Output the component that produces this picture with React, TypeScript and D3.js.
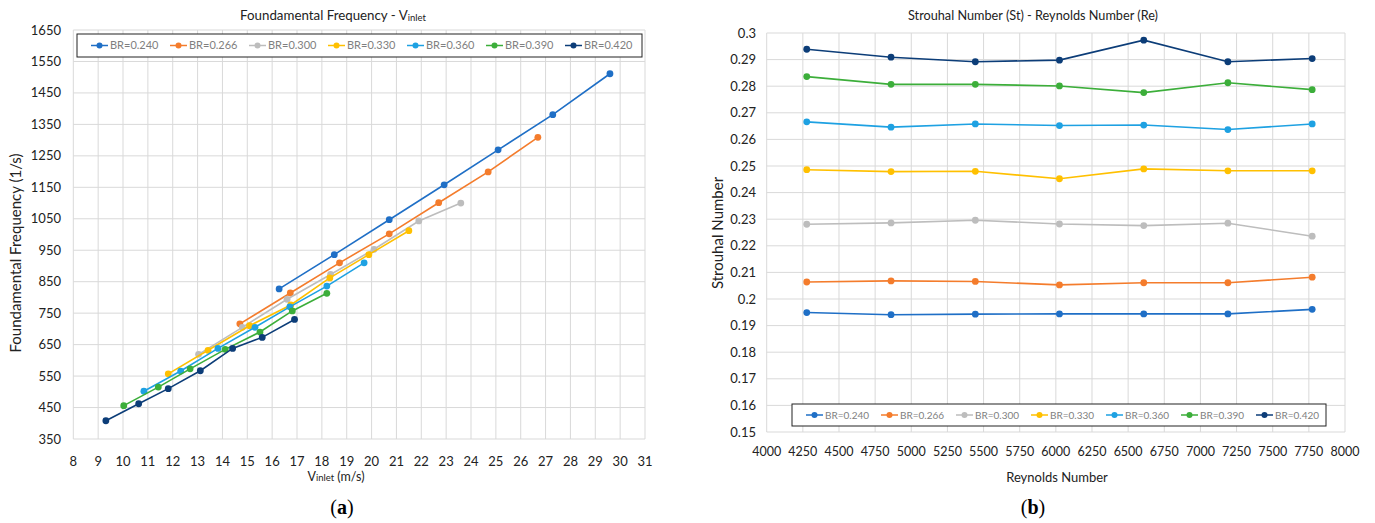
import * as d3 from "d3";

// ---- data ----
const BR_LABELS = ["BR=0.240", "BR=0.266", "BR=0.300", "BR=0.330", "BR=0.360", "BR=0.390", "BR=0.420"];

// (a) inlet velocity (m/s) vs fundamental frequency (1/s)
const V_240 = [16.28, 18.5, 20.71, 22.92, 25.09, 27.29, 29.59];
const F_240 = [827, 936, 1047, 1158, 1269, 1381, 1511];
const V_266 = [14.7, 16.73, 18.71, 20.71, 22.7, 24.69, 26.69];
const F_266 = [716, 814, 910, 1002, 1101, 1199, 1309];
const V_300 = [13.04, 14.8, 16.6, 18.35, 20.1, 21.9, 23.59];
const F_300 = [619, 705, 794, 873, 953, 1043, 1100];
const V_330 = [11.82, 13.42, 15.09, 16.75, 18.32, 19.89, 21.5];
const F_330 = [557, 632, 710, 776, 862, 936, 1012];
const V_360 = [10.84, 12.32, 13.82, 15.31, 16.71, 18.2, 19.7];
const F_360 = [502, 566, 638, 705, 770, 836, 910];
const V_390 = [10.03, 11.42, 12.7, 14.11, 15.51, 16.81, 18.2];
const F_390 = [456, 515, 573, 635, 690, 757, 813];
const V_420 = [9.31, 10.63, 11.82, 13.11, 14.41, 15.6, 16.9];
const F_420 = [408, 462, 510, 567, 638, 673, 730];

// (b) Reynolds number vs Strouhal number
const RE_VALUES = [4277, 4860, 5443, 6025, 6608, 7190, 7773];
const ST_240 = [0.1949, 0.1941, 0.1943, 0.1944, 0.1944, 0.1944, 0.1961];
const ST_266 = [0.2064, 0.2068, 0.2066, 0.2053, 0.2061, 0.2061, 0.2082];
const ST_300 = [0.2281, 0.2286, 0.2296, 0.2282, 0.2276, 0.2285, 0.2236];
const ST_330 = [0.2486, 0.2479, 0.248, 0.2452, 0.2489, 0.2482, 0.2482];
const ST_360 = [0.2666, 0.2646, 0.2658, 0.2652, 0.2654, 0.2637, 0.2658];
const ST_390 = [0.2836, 0.2807, 0.2807, 0.2801, 0.2776, 0.2813, 0.2787];
const ST_420 = [0.2939, 0.2909, 0.2892, 0.2898, 0.2973, 0.2892, 0.2904];

const FREQ_TICKS = d3.range(350, 1651, 100);
const V_TICKS = d3.range(8, 32, 1);
const ST_TICKS = d3.range(0.15, 0.3001, 0.01);
const RE_TICKS = d3.range(4000, 8001, 250);

const COLORS = ["#1f6fc6", "#f47c2c", "#bdbdbd", "#ffc000", "#1ea1e2", "#3cae3a", "#0c3d78"];

const FONT = "Lato, 'Open Sans', sans-serif";
const GRID = "#d9d9d9";
const TICK_FILL = "#222";

const leftSeries = [
  [V_240, F_240], [V_266, F_266], [V_300, F_300], [V_330, F_330],
  [V_360, F_360], [V_390, F_390], [V_420, F_420],
];
const rightSeries = [ST_240, ST_266, ST_300, ST_330, ST_360, ST_390, ST_420];

function Legend({ x, y, w, h, step, fontSize }: { x: number; y: number; w: number; h: number; step: number; fontSize: number }) {
  const cy = y + h / 2;
  return (
    <g>
      <rect x={x} y={y} width={w} height={h} fill="#fff" stroke="#222" strokeWidth={1} />
      {BR_LABELS.map((lab, i) => {
        const x0 = x + 14 + i * step;
        return (
          <g key={lab}>
            <line x1={x0} x2={x0 + 17} y1={cy} y2={cy} stroke={COLORS[i]} strokeWidth={1.5} />
            <circle cx={x0 + 8.5} cy={cy} r={3} fill={COLORS[i]} />
            <text x={x0 + 19} y={cy} dy="0.35em" fontSize={fontSize} fill="#7f7f7f" fontFamily={FONT}>
              {lab}
            </text>
          </g>
        );
      })}
    </g>
  );
}

function FreqChart() {
  const x = d3.scaleLinear().domain([8, 31]).range([73.3, 645]);
  const y = d3.scaleLinear().domain([350, 1650]).range([439, 30]);
  const line = d3.line<[number, number]>().x((d) => x(d[0])).y((d) => y(d[1]));
  return (
    <g>
      {V_TICKS.map((t) => (
        <line key={"gx" + t} x1={x(t)} x2={x(t)} y1={y(1650)} y2={y(350)} stroke={GRID} strokeWidth={1} />
      ))}
      {FREQ_TICKS.map((t) => (
        <line key={"gy" + t} x1={x(8)} x2={x(31)} y1={y(t)} y2={y(t)} stroke={GRID} strokeWidth={1} />
      ))}
      {FREQ_TICKS.map((t) => (
        <text key={"ty" + t} x={61} y={y(t)} dy="0.35em" textAnchor="end" fontSize={13} fill={TICK_FILL} fontFamily={FONT}>
          {t}
        </text>
      ))}
      {V_TICKS.map((t) => (
        <text key={"tx" + t} x={x(t)} y={461} dy="0.35em" textAnchor="middle" fontSize={13} fill={TICK_FILL} fontFamily={FONT}>
          {t}
        </text>
      ))}
      {leftSeries.map(([vs, fs], i) => {
        const pts = vs.map((v, j) => [v, fs[j]] as [number, number]);
        return (
          <g key={"s" + i}>
            <path d={line(pts) ?? ""} fill="none" stroke={COLORS[i]} strokeWidth={1.6} />
            {pts.map((p, j) => (
              <circle key={j} cx={x(p[0])} cy={y(p[1])} r={3.4} fill={COLORS[i]} />
            ))}
          </g>
        );
      })}
      <Legend x={77} y={34} w={565} h={23} step={79} fontSize={11} />
      <text x={333} y={20} textAnchor="middle" fontSize={13.3} fill={TICK_FILL} fontFamily={FONT}>
        Foundamental Frequency - V<tspan fontSize={9.5} dy={1}>inlet</tspan>
      </text>
      <text x={336} y={481} textAnchor="middle" fontSize={12.5} fill={TICK_FILL} fontFamily={FONT}>
        V<tspan fontSize={9.5} dy={0}>inlet</tspan> (m/s)
      </text>
      <text transform="translate(21,253) rotate(-90)" textAnchor="middle" fontSize={15} fill={TICK_FILL} fontFamily={FONT}>
        Foundamental Frequency (1/s)
      </text>
      <text x={342} y={514} textAnchor="middle" fontSize={20} fill="#000" fontFamily="'Liberation Serif', serif">
        (<tspan fontWeight="bold">a</tspan>)
      </text>
    </g>
  );
}

function StrouhalChart() {
  const x = d3.scaleLinear().domain([4000, 8000]).range([766.7, 1345]);
  const y = d3.scaleLinear().domain([0.15, 0.3]).range([432, 33]);
  const line = d3.line<number>().x((_, j) => x(RE_VALUES[j])).y((d) => y(d));
  const fmt = (t: number) => String(+t.toFixed(2));
  return (
    <g>
      {RE_TICKS.map((t) => (
        <line key={"gx" + t} x1={x(t)} x2={x(t)} y1={y(0.3)} y2={y(0.15)} stroke={GRID} strokeWidth={1} />
      ))}
      {ST_TICKS.map((t) => (
        <line key={"gy" + t} x1={x(4000)} x2={x(8000)} y1={y(t)} y2={y(t)} stroke={GRID} strokeWidth={1} />
      ))}
      {ST_TICKS.map((t) => (
        <text key={"ty" + t} x={756} y={y(t)} dy="0.35em" textAnchor="end" fontSize={13} fill={TICK_FILL} fontFamily={FONT}>
          {fmt(t)}
        </text>
      ))}
      {RE_TICKS.map((t) => (
        <text key={"tx" + t} x={x(t)} y={452} dy="0.35em" textAnchor="middle" fontSize={12.5} fill={TICK_FILL} fontFamily={FONT}>
          {t}
        </text>
      ))}
      {rightSeries.map((vals, i) => (
        <g key={"s" + i}>
          <path d={line(vals) ?? ""} fill="none" stroke={COLORS[i]} strokeWidth={1.6} />
          {vals.map((v, j) => (
            <circle key={j} cx={x(RE_VALUES[j])} cy={y(v)} r={3.4} fill={COLORS[i]} />
          ))}
        </g>
      ))}
      <Legend x={792} y={404} w={534} h={22} step={75} fontSize={10} />
      <text x={1033} y={20} textAnchor="middle" fontSize={12.7} fill={TICK_FILL} fontFamily={FONT}>
        Strouhal Number (St) - Reynolds Number (Re)
      </text>
      <text x={1057} y={482} textAnchor="middle" fontSize={13} fill={TICK_FILL} fontFamily={FONT}>
        Reynolds Number
      </text>
      <text transform="translate(723,233) rotate(-90)" textAnchor="middle" fontSize={15} fill={TICK_FILL} fontFamily={FONT}>
        Strouhal Number
      </text>
      <text x={1033} y={514} textAnchor="middle" fontSize={20} fill="#000" fontFamily="'Liberation Serif', serif">
        (<tspan fontWeight="bold">b</tspan>)
      </text>
    </g>
  );
}

export default function App() {
  return (
    <svg
      width={1375}
      height={523}
      viewBox="0 0 1375 523"
      style={{ position: "absolute", left: 0, top: 0, background: "#fff" }}
    >
      <rect width={1375} height={523} fill="#fff" />
      <FreqChart />
      <StrouhalChart />
    </svg>
  );
}
